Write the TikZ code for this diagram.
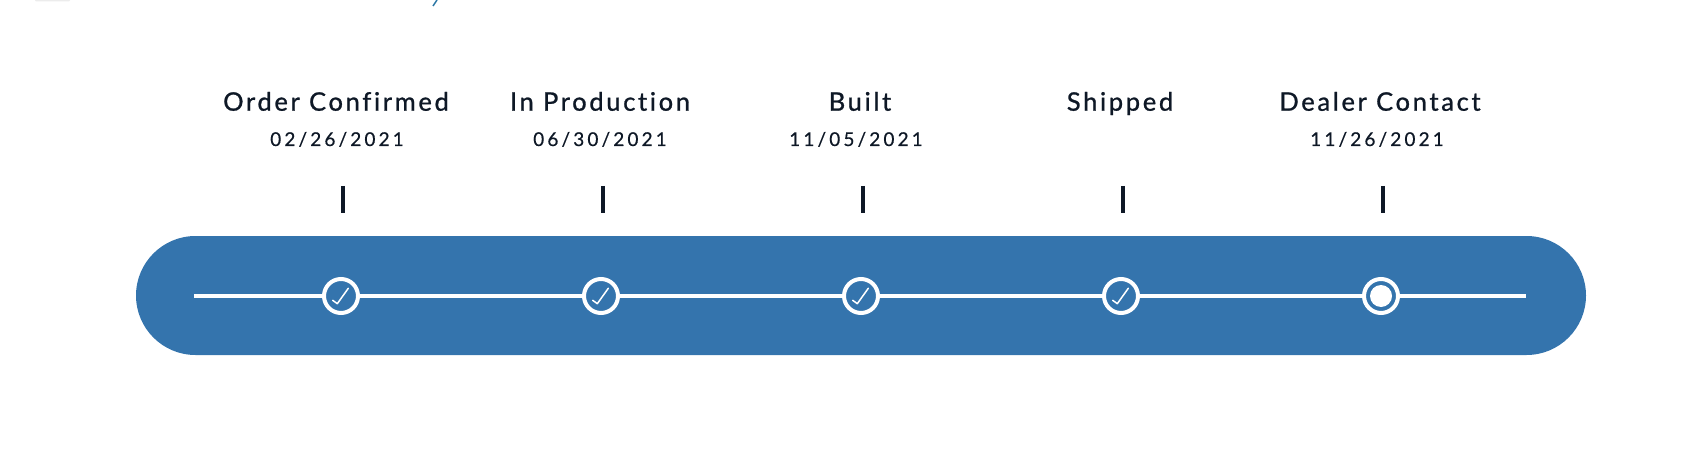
\documentclass[tikz,border=0pt]{standalone}
\usepackage{fontspec}
\setmainfont{Lato}
\newfontfamily\titlefont{Lato}[LetterSpace=10.5, Ligatures=NoCommon, FakeBold=1.0]
\newfontfamily\datefont{Lato}[LetterSpace=16.5, Ligatures=NoCommon, FakeBold=0.5]
\definecolor{barblue}{RGB}{52,116,173}
\definecolor{ink}{RGB}{14,24,38}
\tikzset{
  lbl/.style={anchor=base, inner sep=0pt, text=ink, font=\titlefont\fontsize{25.5}{25.5}\selectfont},
  datelbl/.style={anchor=base, inner sep=0pt, text=ink, font=\datefont\fontsize{19}{19}\selectfont},
  tickmark/.style={line width=4pt, draw=ink},
  stepdot/.style={circle, draw=white, line width=4pt, fill=barblue, minimum size=34pt, inner sep=0pt},
  checkline/.style={draw=white, line width=1.5pt, line cap=round, line join=round},
  track/.style={draw=white, line width=4pt}
}
\begin{document}
\begin{tikzpicture}[x=1pt,y=-1pt]
\useasboundingbox (0,0) rectangle (1690,468);
% cut-off remnants at top edge
\fill[gray!15, rounded corners=1pt] (35,-2) rectangle (70,1.5);
\draw[barblue!80!teal, line width=1.5pt] (433,6) -- (437,0);
% bar
\fill[barblue, rounded corners=59.5pt] (136,236) rectangle (1586,355);
% track ends
\coordinate (L) at (194,296);
\coordinate (R) at (1526,296);
% steps
\node[stepdot] (s1) at (341,296) {};
\node[stepdot] (s2) at (601,296) {};
\node[stepdot] (s3) at (861,296) {};
\node[stepdot] (s4) at (1121,296) {};
\node[stepdot] (s5) at (1381,296) {};
\draw[track] (L) -- (s1.west);
\draw[track] (s1.east) -- (s2.west);
\draw[track] (s2.east) -- (s3.west);
\draw[track] (s3.east) -- (s4.west);
\draw[track] (s4.east) -- (s5.west);
\draw[track] (s5.east) -- (R);
% checks
\foreach \n in {s1,s2,s3,s4}{
  \draw[checkline] ([shift={(-8.3,4.3)}]\n.center) -- ([shift={(-3.7,7.7)}]\n.center) -- ([shift={(7.3,-7.7)}]\n.center);
}
\fill[white] (s5.center) circle (11pt);
% ticks
\foreach \n/\x in {t1/342.5,t2/602.5,t3/862.5,t4/1123,t5/1383}{
  \coordinate (\n a) at (\x,186);
  \coordinate (\n b) at (\x,213);
  \draw[tickmark] (\n a) -- (\n b);
}
% labels
\node[lbl] (l1) at (336,110.7) {Order Confirmed};
\node[lbl] (l2) at (600,110.7) {In Production};
\node[lbl] (l3) at (860,110.7) {Built};
\node[lbl] (l4) at (1120,110.7) {Shipped};
\node[lbl] (l5) at (1380,110.7) {Dealer Contact};
\node[datelbl] (d1) at (337,146) {02/26/2021};
\node[datelbl] (d2) at (600,146) {06/30/2021};
\node[datelbl] (d3) at (856,146) {11/05/2021};
\node[datelbl] (d5) at (1377,146) {11/26/2021};
\end{tikzpicture}
\end{document}
